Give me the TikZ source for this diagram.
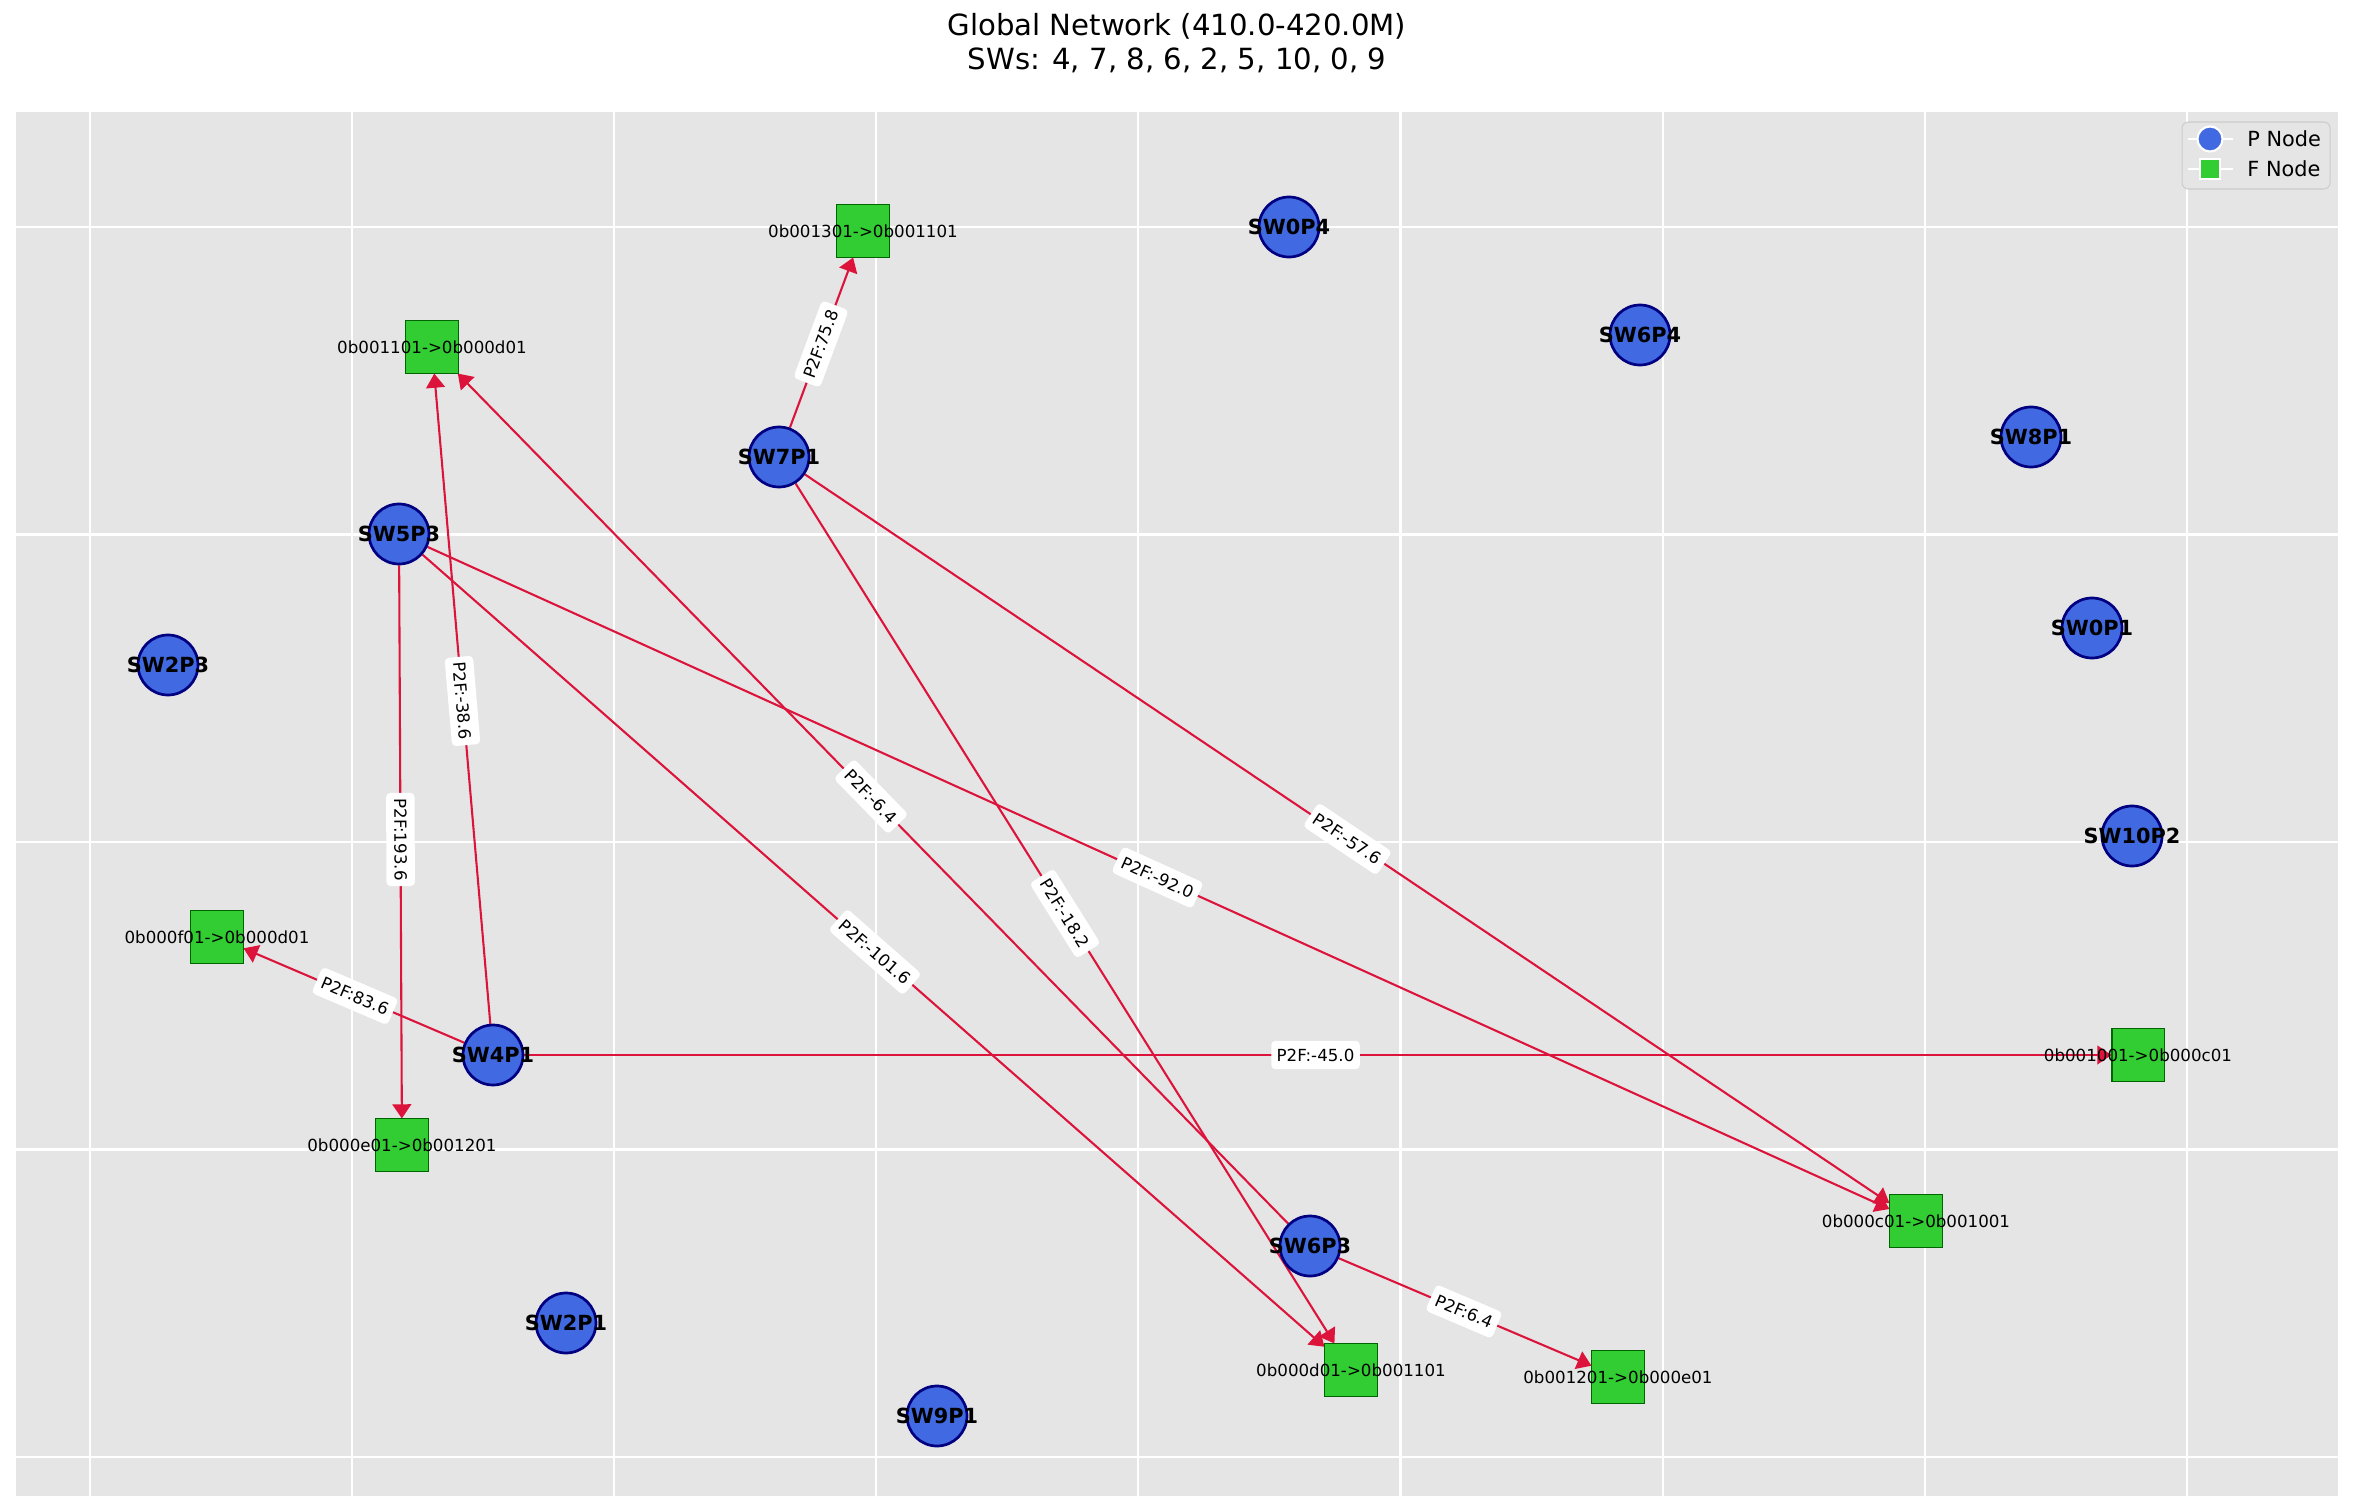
\documentclass[tikz,border=0pt]{standalone}
\usepackage{fontspec}
\setmainfont{DejaVu Sans}
\usetikzlibrary{arrows.meta}
\definecolor{axbg}{HTML}{E5E5E5}
\definecolor{royal}{HTML}{4169E1}
\definecolor{navyc}{HTML}{000080}
\definecolor{limeg}{HTML}{32CD32}
\definecolor{dgreen}{HTML}{006400}
\definecolor{crim}{HTML}{DC143C}
\definecolor{legedge}{HTML}{CCCCCC}
\pgfdeclarelayer{bglayer}
\pgfdeclarelayer{edgelayer}
\pgfdeclarelayer{toplayer}
\pgfsetlayers{bglayer,edgelayer,main,toplayer}
\begin{document}
\begin{tikzpicture}[x=0.48pt,y=-0.48pt,
  pnode/.style={circle, fill=royal, draw=navyc, line width=1.3pt, minimum size=28.8pt, inner sep=0pt},
  plabel/.style={font=\fontsize{10}{12}\selectfont\bfseries, inner sep=0pt},
  fnode/.style={rectangle, fill=limeg, draw=dgreen, line width=0.5pt, minimum size=25pt, inner sep=0pt},
  flabel/.style={font=\fontsize{8}{9.6}\selectfont, inner sep=0pt},
  edgeline/.style={draw=crim, line width=1pt, -{Triangle[length=6.8pt,width=9pt]}},
  elabel/.style={fill=white, rounded corners=2pt, inner xsep=2.6pt, inner ysep=3.8pt, font=\fontsize{8}{9.6}\selectfont, sloped, midway},
  gridline/.style={draw=white, line width=1pt}
]
\useasboundingbox (0,0) rectangle (2355,1512);
\begin{pgfonlayer}{bglayer}
  \fill[white] (0,0) rectangle (2355,1512);
  \fill[axbg] (16,112) rectangle (2338,1496);
  \foreach \i in {0,...,8} \draw[gridline] ({90+262.1*\i},112) -- ({90+262.1*\i},1496);
  \foreach \j in {0,...,4} \draw[gridline] (16,{227+307.5*\j}) -- (2338,{227+307.5*\j});
\end{pgfonlayer}

\node[align=center, font=\fontsize{14}{16.5}\selectfont] (title) at (1177,43) {Global Network (410.0-420.0M)\\SWs: 4, 7, 8, 6, 2, 5, 10, 0, 9};

% P nodes
\node[pnode, label={[plabel]center:SW0P4}] (s04) at (1289,227) {};
\node[pnode, label={[plabel]center:SW6P4}] (s64) at (1640,335) {};
\node[pnode, label={[plabel]center:SW8P1}] (s81) at (2031,437) {};
\node[pnode, label={[plabel]center:SW7P1}] (s71) at (779,457) {};
\node[pnode, label={[plabel]center:SW5P3}] (s53) at (399,534) {};
\node[pnode, label={[plabel]center:SW0P1}] (s01) at (2092,628) {};
\node[pnode, label={[plabel]center:SW2P3}] (s23) at (168,665) {};
\node[pnode, label={[plabel]center:SW10P2}] (s102) at (2132,836) {};
\node[pnode, label={[plabel]center:SW4P1}] (s41) at (493,1055) {};
\node[pnode, label={[plabel]center:SW6P3}] (s63) at (1310,1246) {};
\node[pnode, label={[plabel]center:SW2P1}] (s21) at (566,1323) {};
\node[pnode, label={[plabel]center:SW9P1}] (s91) at (937,1416) {};

% F nodes
\node[fnode, label={[flabel]center:0b001301->0b001101}] (fa) at (863,231) {};
\node[fnode, label={[flabel]center:0b001101->0b000d01}] (fb) at (432,347) {};
\node[fnode, label={[flabel]center:0b000f01->0b000d01}] (fc) at (217,937) {};
\node[fnode, label={[flabel]center:0b000e01->0b001201}] (fd) at (402,1145) {};
\node[fnode, label={[flabel]center:0b001001->0b000c01}] (fe) at (2138,1055) {};
\node[fnode, label={[flabel]center:0b000c01->0b001001}] (ff) at (1916,1221) {};
\node[fnode, label={[flabel]center:0b000d01->0b001101}] (fg) at (1351,1370) {};
\node[fnode, label={[flabel]center:0b001201->0b000e01}] (fh) at (1618,1377) {};

\begin{pgfonlayer}{edgelayer}
  \foreach \a/\b in {s71/fa, s41/fb, s63/fb, s53/fd, s53/fg, s53/ff, s71/ff, s71/fg, s41/fc, s41/fe, s63/fh}
    \draw[edgeline] (\a) -- (\b);
\end{pgfonlayer}

\begin{pgfonlayer}{toplayer}
  \path (s71.center) -- node[elabel] {P2F:75.8} (fa.center);
  \path (s41.center) -- node[elabel] {P2F:-38.6} (fb.center);
  \path (s63.center) -- node[elabel] {P2F:-6.4} (fb.center);
  \path (s53.center) -- node[elabel] {P2F:193.6} (fd.center);
  \path (s53.center) -- node[elabel] {P2F:-101.6} (fg.center);
  \path (s53.center) -- node[elabel] {P2F:-92.0} (ff.center);
  \path (s71.center) -- node[elabel] {P2F:-57.6} (ff.center);
  \path (s71.center) -- node[elabel] {P2F:-18.2} (fg.center);
  \path (s41.center) -- node[elabel] {P2F:83.6} (fc.center);
  \path (s41.center) -- node[elabel] {P2F:-45.0} (fe.center);
  \path (s63.center) -- node[elabel] {P2F:6.4} (fh.center);

  % legend
  \draw[draw=legedge, fill=axbg, line width=0.5pt, rounded corners=3pt] (2182,122) rectangle (2330,189);
  \draw[white, line width=1pt] (2188,139) -- (2233,139);
  \draw[white, line width=1pt] (2188,169) -- (2233,169);
  \node[circle, fill=royal, draw=white, line width=1pt, minimum size=12pt, inner sep=0pt] (legp) at (2210,139) {};
  \node[rectangle, fill=limeg, draw=white, line width=1pt, minimum size=10pt, inner sep=0pt] (legf) at (2210,169) {};
  \node[anchor=west, font=\fontsize{10}{12}\selectfont, inner sep=0pt] (legpt) at (2247,139) {P Node};
  \node[anchor=west, font=\fontsize{10}{12}\selectfont, inner sep=0pt] (legft) at (2247,169) {F Node};
\end{pgfonlayer}
\end{tikzpicture}
\end{document}
